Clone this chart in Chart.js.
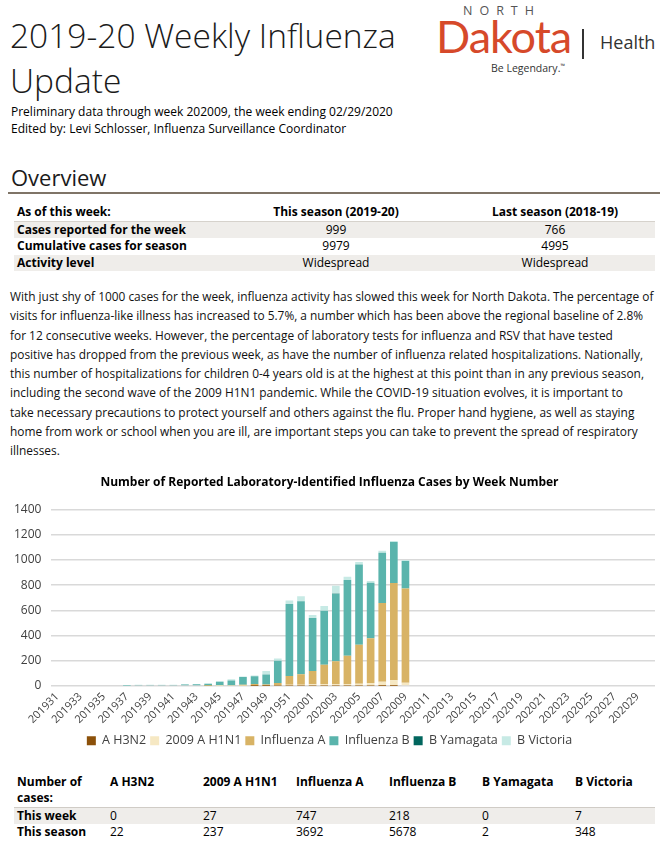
<!DOCTYPE html>
<html>
<head>
<meta charset="utf-8">
<title>2019-20 Weekly Influenza Update</title>
<script src="https://cdn.jsdelivr.net/npm/chart.js@4.4.0/dist/chart.umd.min.js"></script>
<style>
 body { margin:0; width:665px; height:842px; overflow:hidden; background:#fff; position:relative; font-family:"Open Sans", sans-serif; color:#000; }
 .abs { position:absolute; white-space:nowrap; }
 #title { left:10px; top:13px; font-size:33.5px; font-weight:300; line-height:45px; color:#1b1b1b; }
 .sub { left:11px; font-size:12px; }
 #north { left:463px; top:2px; font-family:"Open Sans", sans-serif; font-size:12.5px; letter-spacing:7px; color:#555555; }
 #dakota { left:436px; top:9px; font-family:Lato, sans-serif; font-size:45px; color:#d6492a; letter-spacing:-1px; }
 #sep { left:582px; top:29px; width:1.5px; height:30px; background:#333; }
 #health { left:600px; top:30px; font-size:18px; color:#333; }
 #lema { left:491px; top:61px; font-size:10.5px; color:#333; }
 #overview { left:11px; top:162px; font-size:22px; color:#1b1b1b; }
 #rule { left:8px; top:192px; width:652px; height:2px; background:#7f7467; }
 table { border-collapse:collapse; font-size:12px; }
 #t1 { position:absolute; left:14px; top:204px; width:641px; }
 #t1 td { height:16.5px; padding:0 3px; line-height:16px; }
 #t1 td.c { text-align:center; }
 #t1 tr.hd td { border-bottom:1px solid #d6d2cc; }
 .g td { background:#efedea; }
 b { font-weight:700; }
 #para { left:10px; top:287px; font-size:11.9px; line-height:19.3px; color:#111; }
 #chartbox { position:absolute; left:0; top:466px; width:665px; height:291px; }
 #t2 { position:absolute; left:14px; top:774px; width:641px; }
 #t2 td { padding:0 3px; line-height:16px; vertical-align:top; }
 #t2 tr.hd td { padding-bottom:1px; border-bottom:1.5px solid #d0ccc6; }
</style>
</head>
<body>
<div class="abs" id="title">2019-20 Weekly Influenza<br>Update</div>
<div class="abs sub" style="top:103px">Preliminary data through week 202009, the week ending 02/29/2020</div>
<div class="abs sub" style="top:120px">Edited by: Levi Schlosser, Influenza Surveillance Coordinator</div>

<div class="abs" id="north">NORTH</div>
<div class="abs" id="dakota">Dakota</div>
<div class="abs" id="sep"></div>
<div class="abs" id="health">Health</div>
<div class="abs" id="lema">Be Legendary.<sup style="font-size:6px">™</sup></div>

<div class="abs" id="overview">Overview</div>
<div class="abs" id="rule"></div>

<table id="t1">
 <tr class="hd"><td style="width:197px"><b>As of this week:</b></td><td class="c" style="width:232px"><b>This season (2019-20)</b></td><td class="c"><b>Last season (2018-19)</b></td></tr>
 <tr class="g"><td><b>Cases reported for the week</b></td><td class="c">999</td><td class="c">766</td></tr>
 <tr><td><b>Cumulative cases for season</b></td><td class="c">9979</td><td class="c">4995</td></tr>
 <tr class="g"><td><b>Activity level</b></td><td class="c">Widespread</td><td class="c">Widespread</td></tr>
</table>

<div class="abs" id="para">With just shy of 1000 cases for the week, influenza activity has slowed this week for North Dakota. The percentage of<br>visits for influenza-like illness has increased to 5.7%, a number which has been above the regional baseline of 2.8%<br>for 12 consecutive weeks. However, the percentage of laboratory tests for influenza and RSV that have tested<br>positive has dropped from the previous week, as have the number of influenza related hospitalizations. Nationally,<br>this number of hospitalizations for children 0-4 years old is at the highest at this point than in any previous season,<br>including the second wave of the 2009 H1N1 pandemic. While the COVID-19 situation evolves, it is important to<br>take necessary precautions to protect yourself and others against the flu. Proper hand hygiene, as well as staying<br>home from work or school when you are ill, are important steps you can take to prevent the spread of respiratory<br>illnesses.</div>

<div id="chartbox"><canvas id="miGrafico"></canvas></div>

<table id="t2">
 <tr class="hd"><td style="width:87px"><b>Number of<br>cases:</b></td><td style="width:87px"><b>A H3N2</b></td><td style="width:87px"><b>2009 A H1N1</b></td><td style="width:87px"><b>Influenza A</b></td><td style="width:87px"><b>Influenza B</b></td><td style="width:87px"><b>B Yamagata</b></td><td><b>B Victoria</b></td></tr>
 <tr class="g"><td><b>This week</b></td><td>0</td><td>27</td><td>747</td><td>218</td><td>0</td><td>7</td></tr>
 <tr><td><b>This season</b></td><td>22</td><td>237</td><td>3692</td><td>5678</td><td>2</td><td>348</td></tr>
</table>

<script>
// semanas (eje x)
const semanas = ['201931','201932','201933','201934','201935','201936','201937','201938','201939','201940','201941','201942','201943','201944','201945','201946','201947','201948','201949','201950','201951','201952',
 '202001','202002','202003','202004','202005','202006','202007','202008','202009','202010','202011','202012','202013','202014','202015','202016','202017','202018','202019','202020','202021','202022','202023','202024','202025','202026','202027','202028','202029','202030'];

// casos por semana, 201931 .. 202009
const aH3N2      = [0,0,0,0,0,0,0,0,0,0,0,0,0,0,0,0,0,1,1,2,2,2,2,2,2,2,2,2,1,1,0];
const h1n1       = [0,0,0,0,0,0,0,0,0,0,0,0,0,0,1,2,3,2,3,4,8,8,13,14,15,15,17,22,32,44,27];
const influenzaA = [0,0,0,0,0,0,0,0,0,0,0,0,0,1,2,3,8,13,9,18,70,83,105,152,180,223,309,355,626,771,747];
const influenzaB = [0,0,0,0,0,0,3,8,9,9,9,13,14,17,31,38,61,61,78,176,570,579,419,429,535,600,635,440,397,325,218];
const bYamagata  = [0,0,0,0,0,0,0,0,0,0,0,0,0,0,0,0,0,0,0,0,1,0,0,0,1,0,0,0,0,0,0];
const bVictoria  = [0,0,0,0,0,0,3,2,2,2,2,3,2,2,3,10,4,7,28,19,26,40,24,38,62,27,21,13,16,8,7];

const ticksY = [0, 200, 400, 600, 800, 1000, 1200, 1400];

var ctx = document.getElementById('miGrafico').getContext('2d');
Chart.defaults.font.family = '"Open Sans", sans-serif';

var chart = new Chart(ctx, {
 type: 'bar',
 data: {
  labels: semanas,
  datasets: [
   { label: 'A H3N2', backgroundColor: '#8c510a', data: aH3N2 },
   { label: '2009 A H1N1', backgroundColor: '#f6e8c3', data: h1n1 },
   { label: 'Influenza A', backgroundColor: '#d8b365', data: influenzaA },
   { label: 'Influenza B', backgroundColor: '#5ab4ac', data: influenzaB },
   { label: 'B Yamagata', backgroundColor: '#01665e', data: bYamagata },
   { label: 'B Victoria', backgroundColor: '#c7eae5', data: bVictoria }
  ]
 },
 options: {
  responsive: true,
  maintainAspectRatio: false,
  animation: false,
  layout: { padding: { left: 4, right: 10, top: 0, bottom: 0 } },
  datasets: { bar: { categoryPercentage: 1, barPercentage: 0.66 } },
  plugins: {
   title: {
    display: true,
    text: 'Number of Reported Laboratory-Identified Influenza Cases by Week Number',
    color: '#000',
    font: { size: 12, weight: 'bold' },
    padding: { top: 9, bottom: 20 }
   },
   legend: {
    position: 'bottom',
    labels: { boxWidth: 9, boxHeight: 9, color: '#404040', font: { size: 12.5 }, padding: 4 }
   },
   tooltip: { enabled: false }
  },
  scales: {
   x: {
    stacked: true,
    grid: { display: false, drawTicks: false },
    border: { display: false },
    ticks: {
     autoSkip: false, minRotation: 45, maxRotation: 45, padding: 5,
     color: '#404040', font: { size: 11, lineHeight: 1 },
     callback: function (v, i) { return i % 2 === 0 ? this.getLabelForValue(v) : ''; }
    }
   },
   y: {
    stacked: true,
    min: ticksY[0],
    max: ticksY[ticksY.length - 1],
    afterBuildTicks: function (axis) { axis.ticks = ticksY.map(function (t) { return { value: t }; }); },
    grid: { color: '#d9d9d9', lineWidth: 1.5, drawTicks: false },
    border: { display: false },
    ticks: { color: '#404040', font: { size: 12 }, padding: 10, callback: function (v) { return String(v); } }
   }
  }
 }
});
</script>
</body>
</html>
